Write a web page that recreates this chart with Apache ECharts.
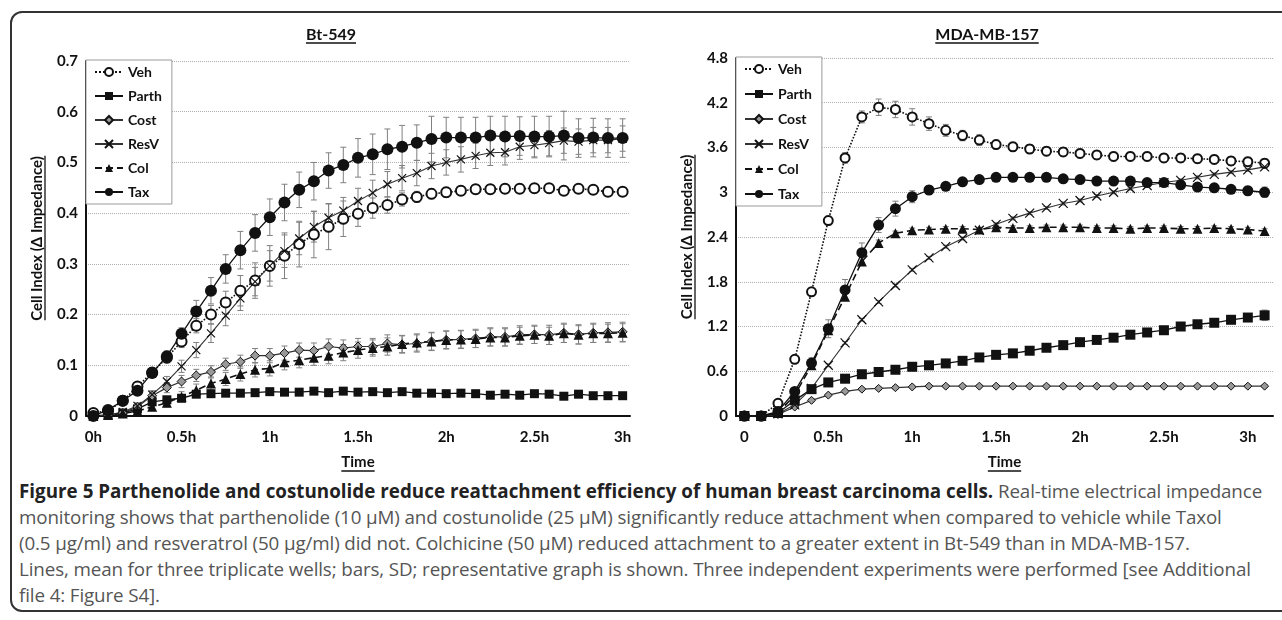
<!DOCTYPE html>
<html>
<head>
<meta charset="utf-8">
<script src="https://cdn.jsdelivr.net/npm/echarts@6/dist/echarts.min.js"></script>
<style>
  html, body { margin: 0; padding: 0; background: #fff; }
  #wrap { position: relative; width: 1282px; height: 620px; overflow: hidden; }
  #frame { position: absolute; left: 10px; top: 11px; width: 1300px; height: 601px;
           border: 2px solid #333; border-radius: 12px; box-sizing: border-box; }
  #chart { position: absolute; left: 0; top: 0; width: 1282px; height: 478px; }
  #caption { position: absolute; left: 19px; top: 478px; font-family: 'Open Sans', sans-serif;
             font-size: 18.8px; line-height: 26px; color: #555; white-space: nowrap; letter-spacing: -0.12px; }
  #caption b { color: #222; letter-spacing: 0.02px; }
</style>
</head>
<body>
<div id="wrap">
  <div id="frame"></div>
  <div id="chart"></div>
  <div id="caption">
    <b>Figure 5 Parthenolide and costunolide reduce reattachment efficiency of human breast carcinoma cells.</b> Real-time electrical impedance<br>
    monitoring shows that parthenolide (10 μM) and costunolide (25 μM) significantly reduce attachment when compared to vehicle while Taxol<br>
    (0.5 μg/ml) and resveratrol (50 μg/ml) did not. Colchicine (50 μM) reduced attachment to a greater extent in Bt-549 than in MDA-MB-157.<br>
    Lines, mean for three triplicate wells; bars, SD; representative graph is shown. Three independent experiments were performed [see Additional<br>
    file 4: Figure S4].
  </div>
</div>
<script>
// 系列名称
const seriesNames = ['Veh', 'Parth', 'Cost', 'ResV', 'Col', 'Tax']

/* Bt-549: 每5分钟一个点 */
const btMinutes = [0, 5, 10, 15, 20, 25, 30, 35, 40, 45, 50, 55, 60, 65, 70, 75, 80, 85, 90,
  95, 100, 105, 110, 115, 120, 125, 130, 135, 140, 145, 150, 155, 160, 165, 170, 175, 180]
const btTickLabels = ['0h', '0.5h', '1h', '1.5h', '2h', '2.5h', '3h']

const btVeh = [0.006, 0.010, 0.030, 0.058, 0.086, 0.115, 0.147, 0.178, 0.200, 0.224, 0.247, 0.267, 0.296,
  0.316, 0.339, 0.358, 0.373, 0.389, 0.399, 0.410, 0.416, 0.427, 0.432, 0.438, 0.441, 0.444, 0.447, 0.447,
  0.448, 0.448, 0.449, 0.449, 0.444, 0.448, 0.446, 0.442, 0.442]
const btParth = [0, 0.002, 0.006, 0.014, 0.028, 0.032, 0.035, 0.043, 0.044, 0.045, 0.045, 0.046, 0.048,
  0.047, 0.047, 0.049, 0.046, 0.049, 0.047, 0.048, 0.046, 0.048, 0.045, 0.045, 0.044, 0.045, 0.044, 0.041,
  0.043, 0.041, 0.044, 0.043, 0.039, 0.043, 0.040, 0.040, 0.040]
const btCost = [0, 0.002, 0.006, 0.018, 0.040, 0.056, 0.068, 0.080, 0.087, 0.102, 0.107, 0.119, 0.119,
  0.124, 0.130, 0.129, 0.137, 0.134, 0.137, 0.137, 0.143, 0.141, 0.143, 0.147, 0.150, 0.151, 0.153, 0.156,
  0.156, 0.160, 0.161, 0.160, 0.164, 0.161, 0.164, 0.165, 0.166]
const btResV = [0, 0.002, 0.008, 0.020, 0.042, 0.068, 0.098, 0.130, 0.163, 0.198, 0.232, 0.265, 0.296,
  0.325, 0.350, 0.373, 0.391, 0.405, 0.424, 0.440, 0.457, 0.469, 0.479, 0.493, 0.500, 0.506, 0.513, 0.519,
  0.520, 0.531, 0.534, 0.538, 0.543, 0.541, 0.544, 0.544, 0.547]
const btCol = [0, 0.002, 0.005, 0.010, 0.018, 0.026, 0.038, 0.051, 0.064, 0.073, 0.083, 0.091, 0.094,
  0.106, 0.110, 0.115, 0.119, 0.125, 0.130, 0.134, 0.137, 0.142, 0.145, 0.147, 0.150, 0.151, 0.152, 0.155,
  0.155, 0.158, 0.160, 0.158, 0.163, 0.160, 0.163, 0.163, 0.164]
const btTax = [0, 0.012, 0.030, 0.050, 0.085, 0.118, 0.162, 0.206, 0.247, 0.290, 0.327, 0.361, 0.392,
  0.421, 0.446, 0.463, 0.484, 0.495, 0.509, 0.516, 0.526, 0.531, 0.539, 0.546, 0.549, 0.549, 0.549, 0.553,
  0.551, 0.552, 0.551, 0.551, 0.553, 0.548, 0.549, 0.548, 0.548]

// SD
const btVehSd = [0.003, 0.004, 0.005, 0.006, 0.008, 0.010, 0.012, 0.014, 0.018, 0.022, 0.030, 0.035, 0.040,
  0.045, 0.045, 0.046, 0.045, 0.035, 0.025, 0.020, 0.016, 0.013, 0.011, 0.010, 0.010, 0.009, 0.009, 0.009,
  0.009, 0.009, 0.009, 0.009, 0.009, 0.009, 0.009, 0.009, 0.009]
const btParthSd = [0.002, 0.002, 0.003, 0.003, 0.004, 0.004, 0.004, 0.004, 0.004, 0.004, 0.004, 0.004, 0.004,
  0.004, 0.004, 0.004, 0.004, 0.004, 0.004, 0.004, 0.004, 0.004, 0.005, 0.005, 0.005, 0.005, 0.005, 0.005,
  0.005, 0.005, 0.005, 0.005, 0.005, 0.005, 0.005, 0.005, 0.005]
const btCostSd = [0.002, 0.002, 0.004, 0.006, 0.008, 0.010, 0.012, 0.012, 0.012, 0.012, 0.013, 0.014, 0.014,
  0.014, 0.014, 0.015, 0.015, 0.016, 0.016, 0.016, 0.017, 0.017, 0.017, 0.018, 0.018, 0.018, 0.018, 0.018,
  0.018, 0.018, 0.018, 0.019, 0.019, 0.019, 0.019, 0.019, 0.019]
const btResVSd = [0.002, 0.002, 0.004, 0.006, 0.008, 0.010, 0.012, 0.015, 0.018, 0.020, 0.024, 0.028, 0.030,
  0.032, 0.032, 0.030, 0.028, 0.026, 0.025, 0.025, 0.025, 0.025, 0.025, 0.025, 0.025, 0.025, 0.025, 0.025,
  0.025, 0.025, 0.025, 0.025, 0.025, 0.025, 0.025, 0.025, 0.025]
const btColSd = [0.002, 0.002, 0.004, 0.005, 0.006, 0.008, 0.010, 0.012, 0.013, 0.013, 0.014, 0.014, 0.015,
  0.015, 0.015, 0.015, 0.016, 0.016, 0.016, 0.016, 0.017, 0.017, 0.017, 0.017, 0.017, 0.017, 0.017, 0.017,
  0.017, 0.017, 0.017, 0.017, 0.018, 0.018, 0.018, 0.018, 0.018]
const btTaxSd = [0.003, 0.004, 0.005, 0.006, 0.008, 0.010, 0.012, 0.022, 0.026, 0.028, 0.037, 0.036, 0.036,
  0.036, 0.035, 0.037, 0.035, 0.035, 0.038, 0.040, 0.040, 0.042, 0.035, 0.045, 0.040, 0.040, 0.040, 0.038,
  0.040, 0.038, 0.040, 0.040, 0.048, 0.038, 0.038, 0.038, 0.038]

/* MDA-MB-157: 每6分钟一个点 */
const mdaMinutes = [0, 6, 12, 18, 24, 30, 36, 42, 48, 54, 60, 66, 72, 78, 84, 90, 96, 102, 108, 114,
  120, 126, 132, 138, 144, 150, 156, 162, 168, 174, 180, 186]
const mdaTickLabels = ['0', '0.5h', '1h', '1.5h', '2h', '2.5h', '3h']

const mdaVeh = [0, 0, 0.17, 0.76, 1.665, 2.62, 3.46, 4.01, 4.14, 4.11, 4.01, 3.92, 3.83, 3.76, 3.70, 3.64,
  3.61, 3.58, 3.55, 3.54, 3.52, 3.50, 3.48, 3.48, 3.48, 3.46, 3.46, 3.45, 3.44, 3.42, 3.41, 3.39]
const mdaParth = [0, 0, 0.04, 0.21, 0.36, 0.45, 0.50, 0.56, 0.59, 0.62, 0.66, 0.68, 0.705, 0.74, 0.785, 0.82,
  0.84, 0.875, 0.915, 0.95, 0.99, 1.02, 1.05, 1.09, 1.12, 1.15, 1.20, 1.23, 1.25, 1.29, 1.32, 1.35]
const mdaCost = [0, 0, 0.02, 0.12, 0.21, 0.28, 0.33, 0.36, 0.37, 0.38, 0.39, 0.40, 0.40, 0.40, 0.40, 0.40,
  0.40, 0.40, 0.40, 0.40, 0.40, 0.40, 0.40, 0.40, 0.40, 0.40, 0.40, 0.40, 0.40, 0.40, 0.40, 0.40]
const mdaResV = [0, 0, 0.03, 0.15, 0.37, 0.68, 0.98, 1.29, 1.53, 1.75, 1.96, 2.12, 2.27, 2.38, 2.49, 2.57,
  2.65, 2.72, 2.79, 2.85, 2.89, 2.95, 3.00, 3.05, 3.09, 3.13, 3.16, 3.20, 3.24, 3.27, 3.30, 3.34]
const mdaCol = [0, 0, 0.04, 0.28, 0.68, 1.15, 1.60, 2.07, 2.32, 2.45, 2.49, 2.50, 2.51, 2.51, 2.50, 2.53,
  2.52, 2.52, 2.53, 2.53, 2.53, 2.52, 2.52, 2.51, 2.52, 2.52, 2.51, 2.51, 2.52, 2.51, 2.50, 2.48]
const mdaTax = [0, 0, 0.06, 0.33, 0.71, 1.17, 1.69, 2.19, 2.56, 2.78, 2.94, 3.03, 3.08, 3.14, 3.17, 3.20,
  3.20, 3.20, 3.20, 3.18, 3.17, 3.15, 3.15, 3.15, 3.13, 3.13, 3.10, 3.07, 3.06, 3.04, 3.02, 3.00]

const mdaVehSd = [0.01, 0.01, 0.03, 0.05, 0.05, 0.06, 0.07, 0.08, 0.11, 0.11, 0.11, 0.09, 0.08, 0.07, 0.07, 0.06,
  0.06, 0.06, 0.06, 0.06, 0.06, 0.06, 0.06, 0.06, 0.06, 0.06, 0.06, 0.06, 0.06, 0.06, 0.06, 0.06]
const mdaParthSd = [0.01, 0.01, 0.02, 0.02, 0.02, 0.02, 0.02, 0.02, 0.02, 0.02, 0.02, 0.02, 0.02, 0.02, 0.02, 0.02,
  0.02, 0.02, 0.02, 0.02, 0.02, 0.02, 0.02, 0.03, 0.03, 0.03, 0.03, 0.03, 0.03, 0.03, 0.05, 0.07]
const mdaCostSd = [0.01, 0.01, 0.02, 0.02, 0.02, 0.02, 0.02, 0.02, 0.02, 0.02, 0.02, 0.02, 0.02, 0.02, 0.02, 0.02,
  0.02, 0.02, 0.02, 0.02, 0.02, 0.02, 0.02, 0.02, 0.02, 0.02, 0.02, 0.02, 0.02, 0.02, 0.02, 0.02]
const mdaResVSd = [0.01, 0.01, 0.02, 0.02, 0.02, 0.02, 0.02, 0.02, 0.02, 0.02, 0.02, 0.02, 0.02, 0.02, 0.02, 0.02,
  0.02, 0.02, 0.02, 0.02, 0.02, 0.02, 0.02, 0.02, 0.02, 0.02, 0.02, 0.02, 0.02, 0.02, 0.02, 0.02]
const mdaColSd = [0.01, 0.01, 0.02, 0.03, 0.04, 0.05, 0.05, 0.05, 0.04, 0.03, 0.03, 0.03, 0.03, 0.03, 0.03, 0.03,
  0.03, 0.03, 0.03, 0.03, 0.03, 0.03, 0.03, 0.03, 0.03, 0.03, 0.03, 0.03, 0.03, 0.03, 0.03, 0.03]
const mdaTaxSd = [0.01, 0.01, 0.03, 0.05, 0.07, 0.12, 0.14, 0.13, 0.10, 0.10, 0.08, 0.06, 0.05, 0.05, 0.05, 0.05,
  0.05, 0.05, 0.05, 0.05, 0.05, 0.05, 0.05, 0.05, 0.05, 0.05, 0.05, 0.05, 0.05, 0.05, 0.06, 0.07]

const FONT = 'Lato'
const INK = '#111'

// 每条线的样式
const lineStyles = {
  Veh:   { symbol: 'emptyCircle', size: [10, 9], item: { color: INK, borderWidth: 1.5 }, line: { color: INK, width: 1.6, type: 'dotted' } },
  Parth: { symbol: 'rect', size: [9, 10], item: { color: INK }, line: { color: INK, width: 1.3 } },
  Cost:  { symbol: 'diamond', size: [9, 8], item: { color: '#999', borderColor: INK, borderWidth: 1 }, line: { color: '#333', width: 1.2 } },
  ResV:  { symbol: 'path://M0,0L10,10M10,0L0,10', size: [8, 9], item: { color: 'none', borderColor: INK, borderWidth: 1.2 }, line: { color: '#333', width: 1.1 } },
  Col:   { symbol: 'triangle', size: [10, 10], item: { color: INK }, line: { color: INK, width: 1.6, type: [7, 4] } },
  Tax:   { symbol: 'circle', size: [12, 11], item: { color: INK }, line: { color: INK, width: 1.3 } }
}

const btData = { Veh: [btVeh, btVehSd], Parth: [btParth, btParthSd], Cost: [btCost, btCostSd],
  ResV: [btResV, btResVSd], Col: [btCol, btColSd], Tax: [btTax, btTaxSd] }
const mdaData = { Veh: [mdaVeh, mdaVehSd], Parth: [mdaParth, mdaParthSd], Cost: [mdaCost, mdaCostSd],
  ResV: [mdaResV, mdaResVSd], Col: [mdaCol, mdaColSd], Tax: [mdaTax, mdaTaxSd] }

const renderErrorBar = (params, api) => {
  const i = api.value(0), v = api.value(1), e = api.value(2)
  const hi = api.coord([i, v + e])
  const lo = api.coord([i, v - e])
  const cap = 3
  const st = { stroke: '#808080', lineWidth: 1 }
  return {
    type: 'group',
    children: [
      { type: 'line', shape: { x1: hi[0], y1: hi[1], x2: lo[0], y2: lo[1] }, style: st },
      { type: 'line', shape: { x1: hi[0] - cap, y1: hi[1], x2: hi[0] + cap, y2: hi[1] }, style: st },
      { type: 'line', shape: { x1: lo[0] - cap, y1: lo[1], x2: lo[0] + cap, y2: lo[1] }, style: st }
    ]
  }
}

const buildSeries = (dataMap, axisIdx) => {
  const out = []
  seriesNames.forEach(name => {
    const [vals, sds] = dataMap[name]
    out.push({
      name: name + '-sd',
      type: 'custom',
      xAxisIndex: axisIdx,
      yAxisIndex: axisIdx,
      silent: true,
      z: 1,
      renderItem: renderErrorBar,
      encode: { x: 0, y: 1 },
      data: vals.map((v, i) => [i, v, sds[i]])
    })
  })
  seriesNames.forEach(name => {
    const s = lineStyles[name]
    out.push({
      name: name,
      type: 'line',
      xAxisIndex: axisIdx,
      yAxisIndex: axisIdx,
      z: 3,
      symbol: s.symbol,
      symbolSize: s.size[axisIdx],
      showAllSymbol: true,
      itemStyle: s.item,
      lineStyle: s.line,
      data: dataMap[name][0]
    })
  })
  return out
}

const labelStyle = { fontFamily: FONT, fontWeight: 'bold', fontSize: 15, color: INK }
const nameStyle = { fontFamily: FONT, fontWeight: 'bold', fontSize: 15, color: INK }

const makeXAxis = (gridIndex, cats, ticks) => ({
  type: 'category',
  gridIndex: gridIndex,
  data: cats,
  boundaryGap: true,
  axisLine: { lineStyle: { color: INK, width: 2 } },
  axisTick: { show: false },
  axisLabel: Object.assign({ interval: 0, margin: 14,
    formatter: v => (Number(v) % 30 === 0 ? ticks[Number(v) / 30] : '') }, labelStyle),
  splitLine: { show: false },
  name: 'Time',
  nameLocation: 'middle',
  nameGap: 39,
  nameTextStyle: nameStyle
})

const makeYAxis = (gridIndex, max, step) => ({
  type: 'value',
  gridIndex: gridIndex,
  min: 0,
  max: max,
  interval: step,
  axisLine: { show: true, lineStyle: { color: INK, width: 2 } },
  axisTick: { show: false },
  axisLabel: Object.assign({ margin: 8, formatter: v => String(+v.toFixed(1)) }, labelStyle),
  splitLine: { show: true, lineStyle: { color: '#b0b0b0', type: 'dotted', width: 1 } },
  name: 'Cell Index (Δ Impedance)',
  nameLocation: 'middle',
  nameRotate: 90,
  nameGap: 41,
  nameTextStyle: nameStyle
})

const legendBase = {
  data: seriesNames,
  orient: 'vertical',
  itemWidth: 28,
  itemHeight: 10,
  backgroundColor: '#fff',
  borderColor: '#9a9a9a',
  borderWidth: 1,
  borderRadius: 0,
  textStyle: { fontFamily: FONT, fontWeight: 'bold', fontSize: 14, color: INK },
  selectedMode: false
}

// 下划线 (标题和轴名)
const measure = (text, font) => {
  const ctx = document.createElement('canvas').getContext('2d')
  ctx.font = font
  return ctx.measureText(text).width
}
const titleFont = 'bold 16px ' + FONT
const nameFont = 'bold 15px ' + FONT
const hLine = (cx, y, w) => ({ type: 'line', silent: true,
  shape: { x1: cx - w / 2, y1: y, x2: cx + w / 2, y2: y }, style: { stroke: INK, lineWidth: 1.3 } })
const vLine = (x, cy, w) => ({ type: 'line', silent: true,
  shape: { x1: x, y1: cy - w / 2, x2: x, y2: cy + w / 2 }, style: { stroke: INK, lineWidth: 1.3 } })

const yNameW = measure('Cell Index (Δ Impedance)', nameFont)
const timeW = measure('Time', nameFont)

const option = {
  animation: false,
  backgroundColor: 'transparent',
  grid: [
    { left: 86, top: 61, width: 544, height: 355 },
    { left: 736, top: 58, width: 537, height: 358 }
  ],
  xAxis: [makeXAxis(0, btMinutes, btTickLabels), makeXAxis(1, mdaMinutes, mdaTickLabels)],
  yAxis: [makeYAxis(0, 0.7, 0.1), makeYAxis(1, 4.8, 0.6)],
  legend: [
    Object.assign({}, legendBase, { left: 86, top: 60, itemGap: 10, padding: [5, 10, 5, 8] }),
    Object.assign({}, legendBase, { left: 736, top: 57, itemGap: 11, padding: [5, 10, 5, 8] })
  ],
  graphic: [
    { type: 'text', x: 331, y: 35, style: { text: 'Bt-549', font: titleFont, fill: INK, align: 'center', verticalAlign: 'middle' } },
    { type: 'text', x: 987, y: 35, style: { text: 'MDA-MB-157', font: titleFont, fill: INK, align: 'center', verticalAlign: 'middle' } },
    hLine(331, 43, measure('Bt-549', titleFont)),
    hLine(987, 43, measure('MDA-MB-157', titleFont)),
    hLine(358, 471, timeW),
    hLine(1004.5, 471, timeW),
    vLine(45, 238, yNameW),
    vLine(695, 237, yNameW)
  ],
  series: buildSeries(btData, 0).concat(buildSeries(mdaData, 1))
}

const chart = echarts.init(document.getElementById('chart'), null, { renderer: 'canvas' })
chart.setOption(option)
</script>
</body>
</html>
